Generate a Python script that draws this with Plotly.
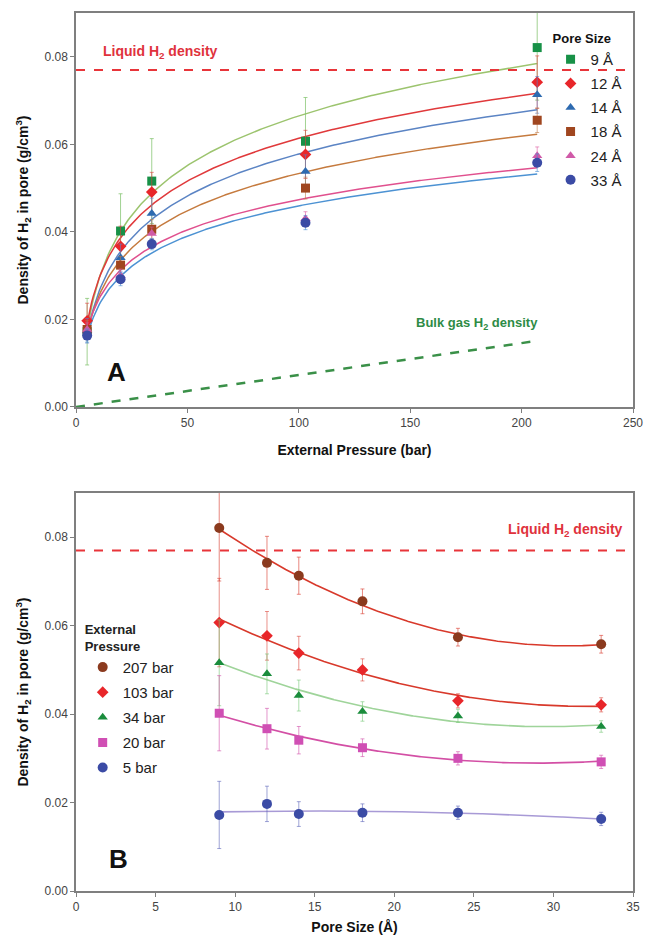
import numpy as np
import plotly.graph_objects as go

# ---------------- data ----------------
pressures = [5, 20, 34, 103, 207]                # bar
pore_sizes = [9, 12, 14, 18, 24, 33]             # Angstrom
pore_labels = ["9 Å", "12 Å", "14 Å", "18 Å", "24 Å", "33 Å"]
pressure_labels = ["207 bar", "103 bar", "34 bar", "20 bar", "5 bar"]
pressure_order = [207, 103, 34, 20, 5]

# density (g/cm3) by pressure, one value per pore size
dens_207 = [0.0821, 0.0742, 0.0713, 0.0655, 0.0574, 0.0558]
dens_103 = [0.0607, 0.0577, 0.0538, 0.0500, 0.0430, 0.0421]
dens_34 = [0.0516, 0.0491, 0.0442, 0.0406, 0.0396, 0.0372]
dens_20 = [0.0402, 0.0367, 0.0341, 0.0324, 0.0300, 0.0292]
dens_5 = [0.0172, 0.0197, 0.0174, 0.0177, 0.0177, 0.0163]

err_207 = [0.0120, 0.0060, 0.0042, 0.0028, 0.0020, 0.0020]
err_103 = [0.0100, 0.0055, 0.0038, 0.0025, 0.0016, 0.0016]
err_34 = [0.0097, 0.0045, 0.0035, 0.0022, 0.0015, 0.0013]
err_20 = [0.0085, 0.0046, 0.0031, 0.0020, 0.0015, 0.0015]
err_5 = [0.0076, 0.0040, 0.0028, 0.0020, 0.0015, 0.0015]

liquid_h2 = 0.077
bulk_gas_pressure = [0, 207]
bulk_gas_density = [0.0, 0.0151]

dens_by_p = {5: dens_5, 20: dens_20, 34: dens_34, 103: dens_103, 207: dens_207}
err_by_p = {5: err_5, 20: err_20, 34: err_34, 103: err_103, 207: err_207}

# ---------------- styles ----------------
FONT = "Liberation Sans, Arial, sans-serif"
A_marker = ["#179147", "#e8262a", "#2d6ab0", "#a0461f", "#d05aa8", "#3b4ba5"]
A_symbol = ["square", "diamond", "triangle-up", "square", "triangle-up", "circle"]
A_size = [9, 9, 9, 9, 9, 10]
A_curve = ["#9cc46e", "#e0393b", "#5b84c4", "#c57a3e", "#e0508e", "#4c92d3"]
A_err = ["rgba(130,195,110,0.75)", "rgba(225,60,60,0.6)", "rgba(90,130,200,0.6)",
         "rgba(190,120,70,0.6)", "rgba(220,90,160,0.6)", "rgba(70,140,210,0.6)"]

B_marker = {207: "#8b3a1e", 103: "#e8262a", 34: "#1a8c3c", 20: "#d04fb4", 5: "#3b4ba5"}
B_symbol = {207: "circle", 103: "diamond", 34: "triangle-up", 20: "square", 5: "circle"}
B_size = {207: 10, 103: 9, 34: 9, 20: 9, 5: 10}
B_curve = {207: "#d8392b", 103: "#d8392b", 34: "#9fd49a", 20: "#d34fa5", 5: "#a89ad6"}
B_err = {207: "rgba(216,57,43,0.6)", 103: "rgba(216,57,43,0.55)", 34: "rgba(120,200,120,0.6)",
         20: "rgba(210,80,170,0.6)", 5: "rgba(80,90,180,0.55)"}

fig = go.Figure()

# ---------------- panel A ----------------
P = np.array(pressures, dtype=float)
p_fine = np.linspace(min(pressures), max(pressures), 300)
for i, lab in enumerate(pore_labels):
    ys = np.array([dens_by_p[p][i] for p in pressures])
    a, b = np.polyfit(np.log(P), ys, 1)   # logarithmic trendline
    fig.add_trace(go.Scatter(x=p_fine, y=a * np.log(p_fine) + b, mode="lines",
                             line=dict(color=A_curve[i], width=1.5), hoverinfo="skip",
                             showlegend=False, legendgroup="A" + lab,
                             xaxis="x", yaxis="y"))
for i, lab in enumerate(pore_labels):
    ys = [dens_by_p[p][i] for p in pressures]
    es = [err_by_p[p][i] for p in pressures]
    fig.add_trace(go.Scatter(x=pressures, y=ys, mode="markers", name=lab,
                             marker=dict(symbol=A_symbol[i], size=A_size[i], color=A_marker[i]),
                             error_y=dict(type="data", array=es, color=A_err[i],
                                          thickness=1, width=2),
                             legendgroup="A" + lab, legend="legend",
                             xaxis="x", yaxis="y"))

fig.add_trace(go.Scatter(x=[0, 250], y=[liquid_h2, liquid_h2], mode="lines",
                         line=dict(color="#e8353a", width=2, dash="dash"),
                         showlegend=False, hoverinfo="skip", xaxis="x", yaxis="y"))
fig.add_trace(go.Scatter(x=bulk_gas_pressure, y=bulk_gas_density, mode="lines",
                         line=dict(color="#3a9048", width=2.5, dash="dash"),
                         showlegend=False, hoverinfo="skip", xaxis="x", yaxis="y"))

# ---------------- panel B ----------------
S = np.array(pore_sizes, dtype=float)
s_fine = np.linspace(min(pore_sizes), max(pore_sizes), 300)
for p, lab in zip(pressure_order, pressure_labels):
    c = np.polyfit(S, np.array(dens_by_p[p]), 2)   # 2nd-order polynomial trendline
    fig.add_trace(go.Scatter(x=s_fine, y=np.polyval(c, s_fine), mode="lines",
                             line=dict(color=B_curve[p], width=1.6), hoverinfo="skip",
                             showlegend=False, legendgroup="B" + lab,
                             xaxis="x2", yaxis="y2"))
fig.add_trace(go.Scatter(x=[0, 35], y=[liquid_h2, liquid_h2], mode="lines",
                         line=dict(color="#e8353a", width=2, dash="dash"),
                         showlegend=False, hoverinfo="skip", xaxis="x2", yaxis="y2"))
for p, lab in zip(pressure_order, pressure_labels):
    fig.add_trace(go.Scatter(x=pore_sizes, y=dens_by_p[p], mode="markers", name=lab,
                             marker=dict(symbol=B_symbol[p], size=B_size[p], color=B_marker[p]),
                             error_y=dict(type="data", array=err_by_p[p], color=B_err[p],
                                          thickness=1, width=2),
                             legendgroup="B" + lab, legend="legend2",
                             xaxis="x2", yaxis="y2"))

# ---------------- layout ----------------
axis_common = dict(showline=True, linecolor="#7f7f7f", linewidth=1.5, mirror=True,
                   ticks="outside", ticklen=4, tickcolor="#7f7f7f", showgrid=False,
                   zeroline=False, automargin=False,
                   tickfont=dict(family=FONT, size=12, color="#444444"))
ytitle = "Density of H<sub>2</sub> in pore (g/cm<sup>3</sup>)"
title_font = dict(family=FONT, size=14, color="#111111")

fig.update_layout(
    width=646, height=935,
    margin=dict(l=76, r=13, t=13, b=44),
    paper_bgcolor="white", plot_bgcolor="white",
    font=dict(family=FONT),
    xaxis=dict(domain=[0, 1], range=[0, 250], dtick=50, anchor="y",
               title=dict(text="<b>External Pressure (bar)</b>", font=title_font, standoff=16),
               **axis_common),
    yaxis=dict(domain=[0.5513, 1], range=[0, 0.09], dtick=0.02, tickformat=".2f", anchor="x",
               title=dict(text="<b>" + ytitle + "</b>", font=title_font, standoff=13),
               **axis_common),
    xaxis2=dict(domain=[0, 1], range=[0, 35], dtick=5, anchor="y2",
                title=dict(text="<b>Pore Size (Å)</b>", font=title_font, standoff=10),
                **axis_common),
    yaxis2=dict(domain=[0, 0.4533], range=[0, 0.09], dtick=0.02, tickformat=".2f", anchor="x2",
                title=dict(text="<b>" + ytitle + "</b>", font=title_font, standoff=13),
                **axis_common),
    legend=dict(x=0.852, y=0.985, xanchor="left", yanchor="top", bgcolor="rgba(0,0,0,0)",
                title=dict(text="<b>Pore Size</b>", font=dict(family=FONT, size=13, color="#111")),
                font=dict(family=FONT, size=15, color="#222"), tracegroupgap=1.6,
                itemwidth=30),
    legend2=dict(x=0.012, y=0.312, xanchor="left", yanchor="top", bgcolor="rgba(0,0,0,0)",
                 title=dict(text="<b>External<br>Pressure</b>", font=dict(family=FONT, size=13, color="#222")),
                 font=dict(family=FONT, size=15, color="#222"), tracegroupgap=2.6,
                 itemwidth=30),
    annotations=[
        dict(x=11, y=0.0812, xref="x", yref="y", text="<b>Liquid H<sub>2</sub> density</b>",
             showarrow=False, xanchor="left", font=dict(family=FONT, size=14, color="#e0323c")),
        dict(x=180, y=0.0191, xref="x", yref="y", text="<b>Bulk gas H<sub>2</sub> density</b>",
             showarrow=False, xanchor="center", font=dict(family=FONT, size=13, color="#2e8b45")),
        dict(x=18, y=0.008, xref="x", yref="y", text="<b>A</b>", showarrow=False,
             font=dict(family=FONT, size=26, color="#111")),
        dict(x=34.5, y=0.0817, xref="x2", yref="y2", text="<b>Liquid H<sub>2</sub> density</b>",
             showarrow=False, xanchor="right", font=dict(family=FONT, size=14, color="#e0323c")),
        dict(x=2.7, y=0.0073, xref="x2", yref="y2", text="<b>B</b>", showarrow=False,
             font=dict(family=FONT, size=26, color="#111")),
    ],
)

fig.write_html("out.html")
